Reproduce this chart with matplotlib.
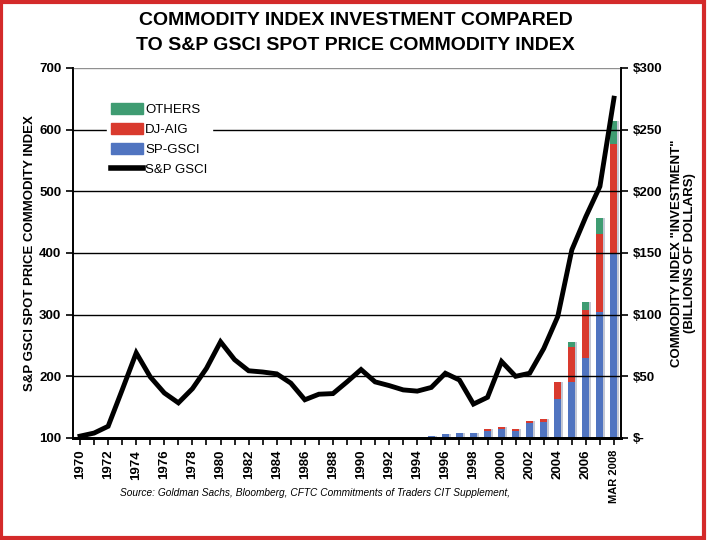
import matplotlib.pyplot as plt
import numpy as np
from matplotlib.patches import Rectangle, Patch
from matplotlib.lines import Line2D

plt.rcParams["font.family"] = ["Liberation Sans", "DejaVu Sans"]

# category labels (1970 .. MAR 2008)
years = [str(y) for y in range(1970, 2008)] + ["MAR 2008"]

# S&P GSCI spot price index (left axis)
gsci = [103, 108, 119, 178, 238, 199, 173, 157, 180, 213,
        256, 227, 209, 207, 204, 189, 162, 171, 172, 191,
        211, 191, 185, 178, 176, 182, 205, 194, 155, 166,
        224, 200, 205, 245, 297, 405, 459, 508, 651]

# index investment, billions of dollars (right axis), from 1995
bar_years = [str(y) for y in range(1995, 2008)] + ["MAR 2008"]
sp_gsci = [1.3, 3.2, 4.0, 4.0, 5.4, 7.5, 5.9, 11.8, 12.6, 31.5, 45.5, 64.6, 102, 150]
dj_aig = [0, 0, 0, 0, 1.9, 1.4, 1.4, 2.2, 2.7, 14.0, 28.5, 39.4, 63.4, 88]
others = [0, 0, 0, 0, 0, 0, 0, 0, 0, 0, 3.7, 6.0, 12.9, 19.4]

blue = "#5074c0"
red = "#d93a2e"
green = "#3f9c72"

fig = plt.figure(figsize=(7.2, 5.4), dpi=100)
ax = fig.add_axes([0.1014, 0.1889, 0.7611, 0.6852])
ax2 = ax.twinx()

x = np.arange(len(years))
bx = np.array([years.index(y) for y in bar_years])
sp = np.array(sp_gsci)
dj = np.array(dj_aig)
ot = np.array(others)
w = 0.5

# shadow
ax2.bar(bx + 0.14, sp + dj + ot, w, color="#c4c8d4", zorder=1)
ax2.bar(bx, sp, w, color=blue, zorder=2)
ax2.bar(bx, dj, w, bottom=sp, color=red, zorder=2)
ax2.bar(bx, ot, w, bottom=sp + dj, color=green, zorder=2)
ax2.set_ylim(0, 300)
ax2.set_yticks(range(0, 301, 50))
ax2.set_yticklabels(["$-"] + ["$%d" % v for v in range(50, 301, 50)],
                    fontweight="bold", fontsize=9.5)
ax2.tick_params(axis="y", direction="out", length=5, width=1.2)
ax2.set_ylabel('COMMODITY INDEX "INVESTMENT"\n(BILLIONS OF DOLLARS)',
               fontweight="bold", fontsize=9.5, labelpad=6, linespacing=1.1)

ax.set_zorder(ax2.get_zorder() + 1)
ax.patch.set_visible(False)
ax.plot(x, gsci, color="black", lw=3.5, solid_joinstyle="miter", zorder=5)
ax.set_ylim(100, 700)
ax.set_xlim(-0.5, len(years) - 0.5)
ax.set_yticks(range(100, 701, 100))
ax.set_yticklabels([str(v) for v in range(100, 701, 100)], fontweight="bold", fontsize=9.5)
for v in range(200, 700, 100):
    ax.axhline(v, color="black", lw=1.0, zorder=0)
ax.axhline(700, color="#909090", lw=1.0, zorder=0)

ax.set_xticks(x)
ax.set_xticklabels([y if i % 2 == 0 or i == len(years) - 1 else "" for i, y in enumerate(years)],
                   rotation=90, fontweight="bold", fontsize=9.5)
ax.get_xticklabels()[-1].set_fontsize(8)
ax.tick_params(axis="x", direction="out", length=5, width=1.2)
ax.tick_params(axis="y", direction="out", length=5, width=1.2)
ax.set_ylabel("S&P GSCI SPOT PRICE COMMODITY INDEX", fontweight="bold", fontsize=9.5, labelpad=2)

for a in (ax, ax2):
    a.spines["top"].set_visible(False)
    a.spines["left"].set_linewidth(1.2)
    a.spines["right"].set_linewidth(1.2)
    a.spines["bottom"].set_linewidth(2)

handles = [Patch(color=green), Patch(color=red), Patch(color=blue),
           Line2D([], [], color="black", lw=4)]
leg = ax.legend(handles, ["OTHERS", "DJ-AIG", "SP-GSCI", "S&P GSCI"],
                loc="upper left", bbox_to_anchor=(0.05, 0.935), frameon=True,
                fontsize=9.5, handlelength=2.4, handleheight=0.9, handletextpad=0.2,
                labelspacing=0.55, borderpad=0.3, fancybox=False)
leg.get_frame().set_edgecolor("white")
leg.get_frame().set_facecolor("white")
leg.get_frame().set_alpha(1)

fig.text(0.494, 0.977, "COMMODITY INDEX INVESTMENT COMPARED\nTO S&P GSCI SPOT PRICE COMMODITY INDEX",
         ha="center", va="top", fontsize=14, fontweight="bold", linespacing=1.55)
fig.text(0.4375, 0.087, "Source: Goldman Sachs, Bloomberg, CFTC Commitments of Traders CIT Supplement,",
         ha="center", va="center", fontsize=7.3, style="italic")

fig.patches.append(Rectangle((0.002, 0.004), 0.976, 0.993, transform=fig.transFigure,
                             fill=False, edgecolor="#d42a2a", lw=3))

fig.savefig("out.png", dpi=100)
